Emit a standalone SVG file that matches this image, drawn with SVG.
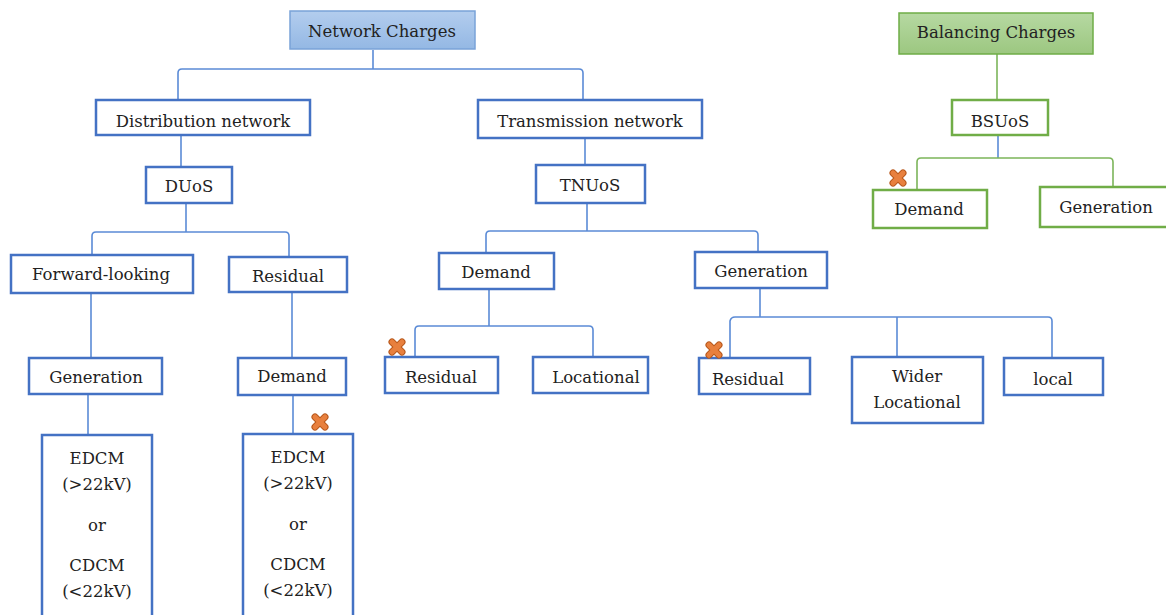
<svg xmlns="http://www.w3.org/2000/svg" width="1166" height="615" viewBox="0 0 1166 615">
<defs>
<linearGradient id="gBlue" x1="0" y1="0" x2="0" y2="1"><stop offset="0" stop-color="#b3cdee"/><stop offset="1" stop-color="#94b8e4"/></linearGradient>
<linearGradient id="gGreen" x1="0" y1="0" x2="0" y2="1"><stop offset="0" stop-color="#b6d9a2"/><stop offset="1" stop-color="#9cc780"/></linearGradient>
<g id="xmark">
<line x1="-5" y1="-5" x2="5" y2="5" stroke="#b8581c" stroke-width="7" stroke-linecap="round"/>
<line x1="5" y1="-5" x2="-5" y2="5" stroke="#b8581c" stroke-width="7" stroke-linecap="round"/>
<line x1="-5" y1="-5" x2="5" y2="5" stroke="#e8803e" stroke-width="5" stroke-linecap="round"/>
<line x1="5" y1="-5" x2="-5" y2="5" stroke="#e8803e" stroke-width="5" stroke-linecap="round"/>
</g>
</defs>
<style>
.box{fill:#ffffff;stroke:#4472c4;stroke-width:2.5}
.gbox{fill:#ffffff;stroke:#70ad47;stroke-width:2.5}
.t{font-family:"DejaVu Serif","Liberation Serif",serif;font-size:16.5px;fill:#222222;text-anchor:middle}
.c{fill:none;stroke:#5b8bd6;stroke-width:1.6}
.cg{fill:none;stroke:#7cb55a;stroke-width:1.6}
</style>
<rect width="1166" height="615" fill="#ffffff"/>
<g id="connectors">
<path class="c" d="M373,50 V69"/>
<path class="c" d="M178,100 V73 Q178,69 182,69 H579 Q583,69 583,73 V100"/>
<path class="c" d="M181,135 V167"/>
<path class="c" d="M585,138 V165"/>
<path class="c" d="M186,203 V232"/>
<path class="c" d="M92,255 V236 Q92,232 96,232 H285 Q289,232 289,236 V257"/>
<path class="c" d="M91,293 V358"/>
<path class="c" d="M88,394 V435"/>
<path class="c" d="M292,292 V358"/>
<path class="c" d="M293,395 V434"/>
<path class="c" d="M587,203 V231"/>
<path class="c" d="M486,253 V235 Q486,231 490,231 H754 Q758,231 758,235 V252"/>
<path class="c" d="M489,289 V326"/>
<path class="c" d="M415,357 V330 Q415,326 419,326 H589 Q593,326 593,330 V357"/>
<path class="c" d="M760,288 V317"/>
<path class="c" d="M730,358 V321 Q731,317 735,317 H1048 Q1052,317 1052,321 V358"/>
<path class="c" d="M897,317 V357"/>
<path class="cg" d="M997,54 V100"/>
<path class="c" d="M998,135 V158"/>
<path class="cg" d="M917,190 V162 Q917,158 921,158 H1109 Q1113,158 1113,162 V187"/>
</g>
<g id="network-charges"><rect x="290" y="11" width="185" height="38" fill="url(#gBlue)" stroke="#7aa3d8" stroke-width="1.5"/><text class="t" x="382" y="37">Network Charges</text></g>
<g id="balancing-charges"><rect x="899" y="13" width="194" height="41" fill="url(#gGreen)" stroke="#6fad47" stroke-width="1.5"/><text class="t" x="996" y="38">Balancing Charges</text></g>
<g id="distribution-network"><rect class="box" x="96" y="100" width="214" height="35"/><text class="t" x="203" y="127">Distribution network</text></g>
<g id="transmission-network"><rect class="box" x="478" y="100" width="224" height="38"/><text class="t" x="590" y="127">Transmission network</text></g>
<g id="duos"><rect class="box" x="146" y="167" width="86" height="36"/><text class="t" x="189" y="192">DUoS</text></g>
<g id="tnuos"><rect class="box" x="536" y="165" width="109" height="38"/><text class="t" x="590" y="191">TNUoS</text></g>
<g id="bsuos"><rect class="gbox" x="952" y="100" width="96" height="35"/><text class="t" x="1000" y="127">BSUoS</text></g>
<g id="forward-looking"><rect class="box" x="11" y="255" width="182" height="38"/><text class="t" x="101" y="280">Forward-looking</text></g>
<g id="duos-residual"><rect class="box" x="229" y="257" width="118" height="35"/><text class="t" x="288" y="282">Residual</text></g>
<g id="tnuos-demand"><rect class="box" x="439" y="253" width="115" height="36"/><text class="t" x="496" y="278">Demand</text></g>
<g id="tnuos-generation"><rect class="box" x="695" y="252" width="132" height="36"/><text class="t" x="761" y="277">Generation</text></g>
<g id="bsuos-demand"><rect class="gbox" x="873" y="190" width="114" height="38"/><text class="t" x="929" y="215">Demand</text></g>
<g id="bsuos-generation"><rect class="gbox" x="1040" y="187" width="132" height="40"/><text class="t" x="1106" y="213">Generation</text></g>
<g id="duos-generation"><rect class="box" x="29" y="358" width="133" height="36"/><text class="t" x="96" y="383">Generation</text></g>
<g id="duos-demand"><rect class="box" x="238" y="358" width="108" height="37"/><text class="t" x="292" y="382">Demand</text></g>
<g id="tnuos-demand-residual"><rect class="box" x="385" y="357" width="113" height="36"/><text class="t" x="441" y="383">Residual</text></g>
<g id="tnuos-demand-locational"><rect class="box" x="533" y="357" width="115" height="36"/><text class="t" x="596" y="383">Locational</text></g>
<g id="tnuos-gen-residual"><rect class="box" x="699" y="358" width="111" height="36"/><text class="t" x="748" y="385">Residual</text></g>
<g id="wider-locational"><rect class="box" x="852" y="357" width="131" height="66"/><text class="t" x="917" y="382">Wider</text><text class="t" x="917" y="408">Locational</text></g>
<g id="local"><rect class="box" x="1004" y="358" width="99" height="37"/><text class="t" x="1053" y="385">local</text></g>
<g id="edcm-left"><rect class="box" x="42" y="435" width="110" height="200"/>
<text class="t" x="97" y="464">EDCM</text><text class="t" x="97" y="490">(&gt;22kV)</text><text class="t" x="97" y="531">or</text><text class="t" x="97" y="571">CDCM</text><text class="t" x="97" y="597">(&lt;22kV)</text></g>
<g id="edcm-right"><rect class="box" x="243" y="434" width="110" height="200"/>
<text class="t" x="298" y="463">EDCM</text><text class="t" x="298" y="489">(&gt;22kV)</text><text class="t" x="298" y="530">or</text><text class="t" x="298" y="570">CDCM</text><text class="t" x="298" y="596">(&lt;22kV)</text></g>
<g id="markers">
<use href="#xmark" x="320" y="422"/>
<use href="#xmark" x="397" y="347"/>
<use href="#xmark" x="714" y="350"/>
<use href="#xmark" x="898" y="178"/>
</g>
</svg>
